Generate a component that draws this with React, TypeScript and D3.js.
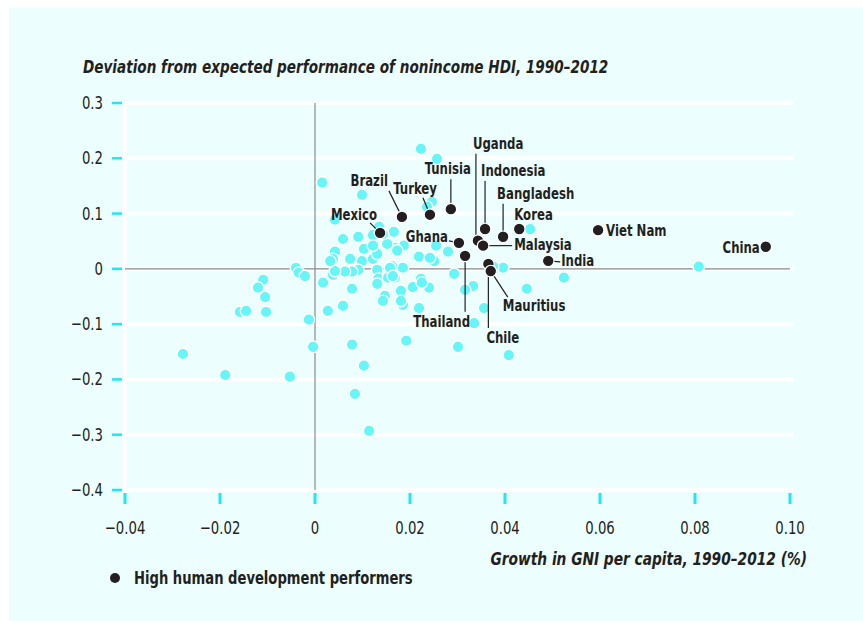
import { useEffect, useRef } from "react";
import * as d3 from "d3";

// x: growth in GNI per capita, y: deviation of nonincome HDI
const otherX = [
  -0.0278, -0.0189, -0.0053, -0.0158, -0.0145, -0.0109, -0.012, -0.0105, -0.0103, -0.004,
  -0.0034, -0.0021, -0.0013, -0.0004, 0.0025, 0.0059, 0.0078, 0.0084, 0.0114, 0.0103,
  0.0015, 0.0099, 0.0042, 0.0223, 0.0257, 0.0246, 0.0236, 0.0453, 0.0524, 0.0446,
  0.0408, 0.0301, 0.0192, 0.0356, 0.0335, 0.0333, 0.0314, 0.024, 0.0206, 0.0219,
  0.0185, 0.0293, 0.0223, 0.028, 0.0255, 0.0219, 0.0251, 0.0808, 0.0185, 0.0383,
  0.0396, 0.0375, 0.0135, 0.0059, 0.0091, 0.0122, 0.0166, 0.0187, 0.0168, 0.0152,
  0.0103, 0.0042, 0.0038, 0.0074, 0.0099, 0.0122, 0.0091, 0.0078, 0.0063, 0.0038,
  0.0017, 0.0078, 0.0131, 0.0133, 0.0131, 0.0154, 0.0168, 0.0242, 0.0225, 0.0181,
  0.0181, 0.0147, 0.0143, 0.0027, 0.0131, 0.0173, 0.0042, 0.0162, 0.0143, 0.0158,
  0.0164, 0.0316, 0.0032, 0.0122,
];
const otherY = [
  -0.154, -0.192, -0.195, -0.078, -0.076, -0.02, -0.034, -0.051, -0.078, 0.002,
  -0.007, -0.013, -0.092, -0.141, -0.074, -0.067, -0.137, -0.226, -0.293, -0.175,
  0.156, 0.134, 0.089, 0.217, 0.199, 0.121, 0.112, 0.072, -0.016, -0.036,
  -0.156, -0.141, -0.13, -0.071, -0.098, -0.031, -0.04, -0.034, -0.033, -0.071,
  -0.065, -0.009, -0.018, 0.031, 0.042, 0.022, 0.014, 0.004, 0.002, 0.002,
  0.002, 0.004, 0.076, 0.054, 0.058, 0.061, 0.067, 0.042, 0.038, 0.045,
  0.036, 0.031, 0.018, 0.018, 0.014, 0.018, -0.002, -0.005, -0.005, -0.011,
  -0.025, -0.036, -0.002, -0.018, -0.027, -0.016, -0.016, 0.02, -0.025, -0.04,
  -0.058, -0.049, -0.058, -0.076, 0.027, 0.033, -0.004, 0.005, 0.063, 0.002,
  -0.013, -0.038, 0.014, 0.042,
];

const performerNames = [
  "Mexico", "Brazil", "Turkey", "Tunisia", "Ghana", "Thailand", "Uganda", "Malaysia",
  "Indonesia", "Bangladesh", "Korea", "Viet Nam", "China", "India", "Chile", "Mauritius",
];
const performerX = [
  0.0137, 0.0183, 0.0242, 0.0286, 0.0303, 0.0316, 0.0343, 0.0354,
  0.0358, 0.0396, 0.043, 0.0596, 0.0949, 0.0491, 0.0365, 0.037,
];
const performerY = [
  0.065, 0.094, 0.098, 0.108, 0.047, 0.0235, 0.051, 0.042,
  0.072, 0.058, 0.072, 0.07, 0.04, 0.0145, 0.009, -0.004,
];

const xTicks = [-0.04, -0.02, 0, 0.02, 0.04, 0.06, 0.08, 0.1];
const xTickLabels = ["\u22120.04", "\u22120.02", "0", "0.02", "0.04", "0.06", "0.08", "0.10"];
const yTicks = [0.3, 0.2, 0.1, 0, -0.1, -0.2, -0.3, -0.4];
const yTickLabels = ["0.3", "0.2", "0.1", "0", "\u22120.1", "\u22120.2", "\u22120.3", "\u22120.4"];

// label placement, pixel offsets from the dot
const labelLayout: { dx: number; dy: number; anchor: string; lead?: number[] }[] = [
  { dx: -3, dy: -13, anchor: "end", lead: [-10, -10, 0, 0] },
  { dx: -14, dy: -31, anchor: "end", lead: [-13, -26, 0, 0] },
  { dx: 7, dy: -21, anchor: "end", lead: [-7, -17, 0, 0] },
  { dx: 20, dy: -35, anchor: "end", lead: [0, -30, 0, 0] },
  { dx: -11, dy: -1, anchor: "end", lead: [-10, -2, 0, 0] },
  { dx: 5, dy: 71, anchor: "end", lead: [0, 0, 0, 56] },
  { dx: -5, dy: -92, anchor: "start", lead: [-2, -87, -2, 0] },
  { dx: 31, dy: 4, anchor: "start", lead: [3, 0, 29, 0] },
  { dx: -4, dy: -53, anchor: "start", lead: [0, -48, 0, 0] },
  { dx: -6, dy: -38, anchor: "start", lead: [0, -33, 0, 0] },
  { dx: -5, dy: -9, anchor: "start" },
  { dx: 8, dy: 6, anchor: "start" },
  { dx: -6, dy: 6, anchor: "end" },
  { dx: 13, dy: 5, anchor: "start", lead: [0, 0, 12, 1] },
  { dx: -2, dy: 79, anchor: "start", lead: [0, 0, 0, 64] },
  { dx: 12, dy: 40, anchor: "start", lead: [0, 0, 17, 26] },
];

const FONT = "'DejaVu Sans Condensed', 'DejaVu Sans', sans-serif";
const CYAN = "#66f6f8";
const INK = "#231f20";

// condensed text: squeeze horizontally around the anchor point
const squeeze = (x: number, y: number, s: number) => `translate(${x},${y}) scale(${s},1)`;

export default function App() {
  const svgRef = useRef<SVGSVGElement>(null);
  const width = 863;
  const height = 621;

  useEffect(() => {
    if (!svgRef.current) return;
    const svg = d3.select(svgRef.current);
    svg.selectAll("*").remove();

    const x = d3.scaleLinear().domain([-0.04, 0.1]).range([125, 790]);
    const y = d3.scaleLinear().domain([-0.4, 0.3]).range([490, 103]);

    svg.append("rect").attr("x", 9).attr("y", 8).attr("width", width - 9).attr("height", height - 8).attr("fill", "#ecfefe");

    // white grid
    svg.append("g")
      .selectAll("line")
      .data(yTicks)
      .join("line")
      .attr("x1", x(-0.04))
      .attr("x2", x(0.1) + 3)
      .attr("y1", (d) => y(d))
      .attr("y2", (d) => y(d))
      .attr("stroke", "#fff")
      .attr("stroke-width", 4);
    svg.append("line")
      .attr("x1", x(-0.04)).attr("x2", x(-0.04))
      .attr("y1", y(0.3) - 2).attr("y2", y(-0.4) + 2)
      .attr("stroke", "#fff").attr("stroke-width", 4);

    // y ticks
    svg.append("g")
      .selectAll("line")
      .data(yTicks)
      .join("line")
      .attr("x1", 112).attr("x2", 122)
      .attr("y1", (d) => y(d)).attr("y2", (d) => y(d))
      .attr("stroke", "#1de9f2").attr("stroke-width", 2.5);
    svg.append("g")
      .selectAll("text")
      .data(yTicks)
      .join("text")
      .attr("transform", (d) => squeeze(103, y(d) + 6, 0.82))
      .attr("text-anchor", "end")
      .attr("font-family", FONT)
      .attr("font-size", 18)
      .attr("fill", INK)
      .text((_, i) => yTickLabels[i]);

    // x ticks
    svg.append("g")
      .selectAll("line")
      .data(xTicks)
      .join("line")
      .attr("x1", (d) => x(d)).attr("x2", (d) => x(d))
      .attr("y1", 493).attr("y2", 504)
      .attr("stroke", "#1de9f2").attr("stroke-width", 3);
    svg.append("g")
      .selectAll("text")
      .data(xTicks)
      .join("text")
      .attr("transform", (d) => squeeze(x(d), 534, 0.82))
      .attr("text-anchor", "middle")
      .attr("font-family", FONT)
      .attr("font-size", 18)
      .attr("fill", INK)
      .text((_, i) => xTickLabels[i]);

    // zero lines
    svg.append("line")
      .attr("x1", x(-0.04)).attr("x2", x(0.1))
      .attr("y1", y(0)).attr("y2", y(0))
      .attr("stroke", "#8a8a8a").attr("stroke-width", 1.2);
    svg.append("line")
      .attr("x1", x(0)).attr("x2", x(0))
      .attr("y1", y(0.3)).attr("y2", y(-0.4))
      .attr("stroke", "#8a8a8a").attr("stroke-width", 1.2);

    // other countries
    svg.append("g")
      .selectAll("circle")
      .data(otherX)
      .join("circle")
      .attr("cx", (d) => x(d))
      .attr("cy", (_, i) => y(otherY[i]))
      .attr("r", 5.8)
      .attr("fill", CYAN)
      .attr("stroke", "#fff")
      .attr("stroke-width", 1.4);

    // leader lines
    const lead = svg.append("g").attr("stroke", INK).attr("stroke-width", 1.2);
    performerNames.forEach((_, i) => {
      const l = labelLayout[i].lead;
      if (!l) return;
      const px = x(performerX[i]);
      const py = y(performerY[i]);
      lead.append("line")
        .attr("x1", px + l[0]).attr("y1", py + l[1])
        .attr("x2", px + l[2]).attr("y2", py + l[3]);
    });

    // performers
    svg.append("g")
      .selectAll("circle")
      .data(performerX)
      .join("circle")
      .attr("cx", (d) => x(d))
      .attr("cy", (_, i) => y(performerY[i]))
      .attr("r", 5.8)
      .attr("fill", INK)
      .attr("stroke", "#fff")
      .attr("stroke-width", 1.2);

    svg.append("g")
      .selectAll("text")
      .data(performerNames)
      .join("text")
      .attr("transform", (_, i) =>
        squeeze(x(performerX[i]) + labelLayout[i].dx, y(performerY[i]) + labelLayout[i].dy, 0.79))
      .attr("text-anchor", (_, i) => labelLayout[i].anchor)
      .attr("font-family", FONT)
      .attr("font-weight", "bold")
      .attr("font-size", 16.5)
      .attr("fill", INK)
      .text((d) => d);

    // titles
    svg.append("text")
      .attr("transform", squeeze(83, 73, 0.84))
      .attr("font-family", FONT).attr("font-weight", "bold").attr("font-style", "italic")
      .attr("font-size", 18).attr("fill", INK)
      .text("Deviation from expected performance of nonincome HDI, 1990\u20132012");
    svg.append("text")
      .attr("transform", squeeze(807, 565, 0.85))
      .attr("text-anchor", "end")
      .attr("font-family", FONT).attr("font-weight", "bold").attr("font-style", "italic")
      .attr("font-size", 18).attr("fill", INK)
      .text("Growth in GNI per capita, 1990\u20132012 (%)");

    // legend
    svg.append("circle").attr("cx", 115).attr("cy", 578).attr("r", 5).attr("fill", INK);
    svg.append("text")
      .attr("transform", squeeze(134, 584, 0.86))
      .attr("font-family", FONT).attr("font-weight", "bold")
      .attr("font-size", 17).attr("fill", INK)
      .text("High human development performers");
  }, []);

  return (
    <div style={{ position: "absolute", left: 0, top: 0 }}>
      <svg ref={svgRef} width={width} height={height} style={{ display: "block" }} />
    </div>
  );
}
